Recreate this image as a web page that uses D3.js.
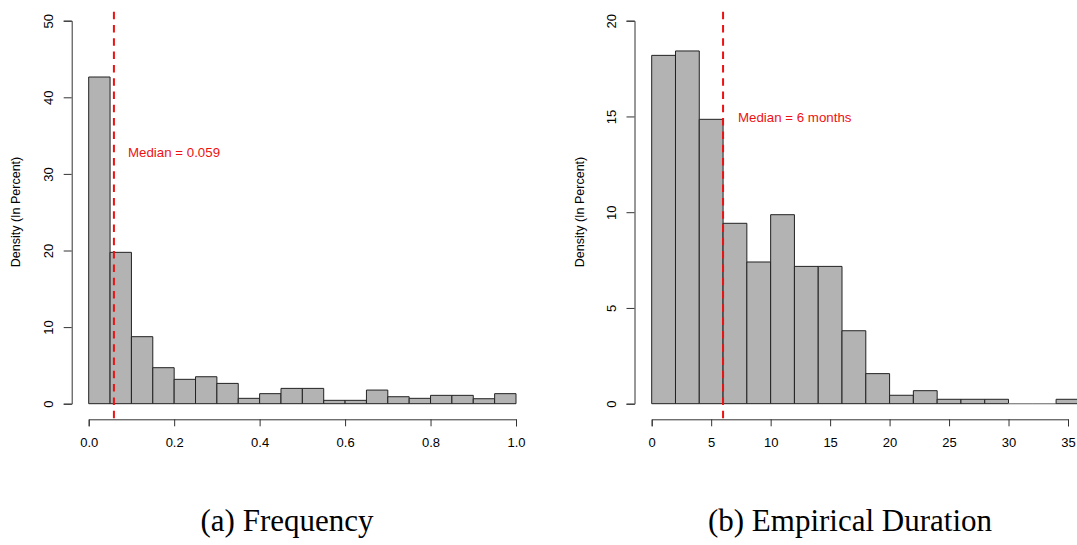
<!DOCTYPE html>
<html>
<head>
<meta charset="utf-8">
<script src="https://cdn.jsdelivr.net/npm/d3@7/dist/d3.min.js"></script>
<style>
  body { margin: 0; background: #fff; }
  svg { display: block; }
  .tick text { font-family: "Liberation Sans", Arial, sans-serif; font-size: 13px; fill: #000; }
</style>
</head>
<body>
<div id="chart"></div>
<script>
// bin edges and densities (in percent)
var freqBreaks = [0, 0.05, 0.10, 0.15, 0.20, 0.25, 0.30, 0.35, 0.40, 0.45, 0.50,
                  0.55, 0.60, 0.65, 0.70, 0.75, 0.80, 0.85, 0.90, 0.95, 1.00];
var freqDensity = [42.65, 19.76, 8.75, 4.70, 3.18, 3.52, 2.65, 0.70, 1.31, 2.00,
                   2.00, 0.44, 0.44, 1.78, 0.91, 0.70, 1.09, 1.09, 0.65, 1.31];
var freqXTicks = [0, 0.2, 0.4, 0.6, 0.8, 1.0];
var freqYTicks = [0, 10, 20, 30, 40, 50];
var freqMedian = 0.059;

var durBreaks = [0, 2, 4, 6, 8, 10, 12, 14, 16, 18, 20, 22, 24, 26, 28, 30, 32, 34, 36];
var durDensity = [18.19, 18.42, 14.85, 9.42, 7.40, 9.87, 7.17, 7.17, 3.81,
                  1.57, 0.44, 0.68, 0.23, 0.23, 0.23, 0, 0, 0.23];
var durXTicks = [0, 5, 10, 15, 20, 25, 30, 35];
var durYTicks = [0, 5, 10, 15, 20];
var durMedian = 6;

var W = 1077, H = 545;
var svg = d3.select("#chart").append("svg")
    .attr("width", W)
    .attr("height", H);

function drawHist(o) {
    var x = d3.scaleLinear().domain([o.xTicks[0], o.xTicks[o.xTicks.length - 1]]).range(o.xRange);
    var y = d3.scaleLinear().domain([o.yTicks[0], o.yTicks[o.yTicks.length - 1]]).range([403.7, 20.7]);
    var g = svg.append("g");

    // bars as closed paths so empty bins still show a line at zero
    var bins = o.density.map(function (d, i) {
        return { x0: o.breaks[i], x1: o.breaks[i + 1], v: d };
    });
    g.selectAll("path.bar").data(bins).enter().append("path")
        .attr("class", "bar")
        .attr("d", function (d) {
            var p = d3.path();
            p.moveTo(x(d.x0), y(0));
            p.lineTo(x(d.x0), y(d.v));
            p.lineTo(x(d.x1), y(d.v));
            p.lineTo(x(d.x1), y(0));
            p.closePath();
            return p.toString();
        })
        .attr("fill", "#b3b3b3")
        .attr("stroke", function (d) { return d.v > 0 ? "#222" : "#888"; })
        .attr("stroke-width", 1);

    // x axis (R style, detached below the plot)
    var xa = g.append("g")
        .attr("transform", "translate(0,419.3)")
        .call(d3.axisBottom(x).tickValues(o.xTicks).tickFormat(o.xFormat).tickSizeOuter(0).tickSize(7));
    xa.select(".domain").attr("stroke", "#333");
    xa.selectAll(".tick line").attr("stroke", "#333");
    xa.selectAll(".tick text").attr("y", 23.4).attr("dy", "0.35em");

    // y axis with rotated labels
    var ya = g.append("g")
        .attr("transform", "translate(" + o.yAxisX + ",0)")
        .call(d3.axisLeft(y).tickValues(o.yTicks).tickSizeOuter(0).tickSize(8));
    ya.select(".domain").attr("stroke", "#333");
    ya.selectAll(".tick line").attr("stroke", "#333");
    ya.selectAll(".tick text")
        .attr("x", 0).attr("y", 0).attr("dy", "0.35em")
        .attr("text-anchor", "middle")
        .attr("transform", "translate(-23.4,0) rotate(-90)");

    g.append("text")
        .attr("transform", "translate(" + o.yLabelX + ",212) rotate(-90)")
        .attr("text-anchor", "middle")
        .attr("dy", "0.35em")
        .style("font-family", "Liberation Sans, Arial, sans-serif")
        .style("font-size", "12.5px")
        .text("Density (In Percent)");

    // median line
    g.append("line")
        .attr("x1", x(o.median)).attr("x2", x(o.median))
        .attr("y1", 11.7).attr("y2", 420)
        .attr("stroke", "#ee1111")
        .attr("stroke-width", 2)
        .attr("stroke-dasharray", "7.5,5.8");

    g.append("text")
        .attr("x", o.labelX).attr("y", o.labelY)
        .attr("dy", "0.35em")
        .attr("fill", "#ee1111")
        .style("font-family", "Liberation Sans, Arial, sans-serif")
        .style("font-size", "13.3px")
        .text(o.label);

    svg.append("text")
        .attr("x", o.captionX).attr("y", 531)
        .attr("text-anchor", "middle")
        .style("font-family", "Liberation Serif, Times New Roman, serif")
        .style("font-size", "31px")
        .text(o.caption);
}

drawHist({
    breaks: freqBreaks, density: freqDensity, xTicks: freqXTicks, yTicks: freqYTicks,
    median: freqMedian, xRange: [88.7, 516], yAxisX: 71.7, yLabelX: 16,
    xFormat: d3.format(".1f"),
    label: "Median = 0.059", labelX: 128, labelY: 152,
    caption: "(a) Frequency", captionX: 287
});

drawHist({
    breaks: durBreaks, density: durDensity, xTicks: durXTicks, yTicks: durYTicks,
    median: durMedian, xRange: [651.7, 1068], yAxisX: 634.5, yLabelX: 579.5,
    xFormat: d3.format("d"),
    label: "Median = 6 months", labelX: 738, labelY: 117,
    caption: "(b) Empirical Duration", captionX: 850
});
</script>
</body>
</html>
